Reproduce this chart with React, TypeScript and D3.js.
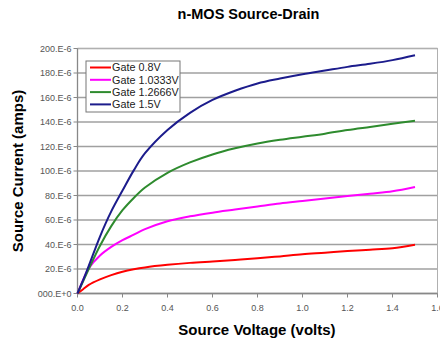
import React from 'react';
import * as d3 from 'd3';

const voltages = [0, 0.025, 0.05, 0.1, 0.15, 0.2, 0.25, 0.3, 0.4, 0.5, 0.6, 0.7, 0.8, 0.9, 1.0, 1.1, 1.2, 1.3, 1.4, 1.5];
const gate08 = [0, 3.5, 7, 11.5, 15, 17.8, 19.8, 21.3, 23.4, 25, 26.2, 27.4, 28.7, 30.3, 32, 33.3, 34.7, 35.8, 37, 39.8];
const gate10333 = [0, 11, 20.5, 31, 38, 43.5, 48, 52.5, 59, 63, 66, 68.5, 71, 73.5, 75.5, 77.5, 79.5, 81.5, 83.5, 87];
const gate12666 = [0, 10, 20, 39, 55, 68, 78, 86.5, 98.5, 107, 113.5, 118.5, 122.5, 125.5, 128, 130.5, 133.5, 136, 138.5, 141];
const gate15 = [0, 11, 22.5, 46.5, 67, 84, 100.5, 114.5, 133.5, 147.5, 158, 165.5, 171.5, 175.5, 179, 182, 185, 187.5, 190.5, 194.5];

const seriesNames = ['Gate 0.8V', 'Gate 1.0333V', 'Gate 1.2666V', 'Gate 1.5V'];
const seriesColors = ['#ff0000', '#ff00ff', '#2e8b2e', '#1c1c8c'];
const seriesValues = [gate08, gate10333, gate12666, gate15];

const yTicks = [0, 20, 40, 60, 80, 100, 120, 140, 160, 180, 200];
const yTickLabels = ['000.E+0', '20.E-6', '40.E-6', '60.E-6', '80.E-6', '100.E-6', '120.E-6', '140.E-6', '160.E-6', '180.E-6', '200.E-6'];
const xTicks = [0, 0.2, 0.4, 0.6, 0.8, 1.0, 1.2, 1.4, 1.6];

const W = 440;
const H = 339;
const left = 77.5;
const right = 437.5;
const top = 48.5;
const bottom = 293.5;
const font = '"Liberation Sans", Arial, sans-serif';

export default function App() {
  const x = d3.scaleLinear().domain([0, 1.6]).range([left, right]);
  const y = d3.scaleLinear().domain([0, 200]).range([bottom, top]);

  const line = d3.line<number>()
    .x((_, i) => x(voltages[i]))
    .y(d => y(d))
    .curve(d3.curveCatmullRom.alpha(0.5));

  return (
    <svg width={W} height={H} style={{ position: 'absolute', left: 0, top: 0, background: '#fff' }}>
      {/* gridlines */}
      {yTicks.map(t => (
        <line key={'g' + t} x1={left} x2={right} y1={y(t)} y2={y(t)} stroke="#a0a0a0" strokeWidth={1.3} />
      ))}
      <rect x={left} y={top} width={right - left} height={bottom - top} fill="none" stroke="#b0b0b0" strokeWidth={1} />
      <line x1={left} x2={left} y1={top} y2={bottom} stroke="#888" strokeWidth={1.3} />
      <line x1={left} x2={right} y1={bottom} y2={bottom} stroke="#888" strokeWidth={1.3} />

      {/* y ticks */}
      {yTicks.map((t, i) => (
        <g key={'y' + t}>
          <line x1={left - 4} x2={left} y1={y(t)} y2={y(t)} stroke="#888" />
          <text x={left - 6} y={y(t)} dy="0.35em" textAnchor="end" fontFamily={font} fontSize={9} fill="#555">
            {yTickLabels[i]}
          </text>
        </g>
      ))}

      {/* x ticks */}
      {xTicks.map(t => (
        <g key={'x' + t}>
          <line x1={x(t)} x2={x(t)} y1={bottom} y2={bottom + 4} stroke="#888" />
          <text x={x(t)} y={bottom + 17} textAnchor="middle" fontFamily={font} fontSize={9} fill="#555">
            {t.toFixed(1)}
          </text>
        </g>
      ))}

      {/* series */}
      {seriesValues.map((vals, i) => (
        <path key={seriesNames[i]} d={line(vals) || ''} fill="none" stroke={seriesColors[i]} strokeWidth={2} />
      ))}

      {/* legend */}
      <rect x={86} y={61} width={94} height={51} fill="#fff" stroke="#777" strokeWidth={1} />
      {seriesNames.map((n, i) => (
        <g key={'l' + n} transform={`translate(90, ${67.5 + i * 12.3})`}>
          <line x1={0} x2={21} y1={0} y2={0} stroke={seriesColors[i]} strokeWidth={2} />
          <text x={22} y={0} dy="0.35em" fontFamily={font} fontSize={10.8} fill="#222">{n}</text>
        </g>
      ))}

      {/* titles */}
      <text x={248.5} y={14} dy="0.35em" textAnchor="middle" fontFamily={font} fontWeight="bold" fontSize={14.5}>
        n-MOS Source-Drain
      </text>
      <text x={257} y={330} dy="0.35em" textAnchor="middle" fontFamily={font} fontWeight="bold" fontSize={15}>
        Source Voltage (volts)
      </text>
      <text transform={`translate(18, ${(top + bottom) / 2}) rotate(-90)`} dy="0.35em" textAnchor="middle"
        fontFamily={font} fontWeight="bold" fontSize={15}>
        Source Current (amps)
      </text>
    </svg>
  );
}
